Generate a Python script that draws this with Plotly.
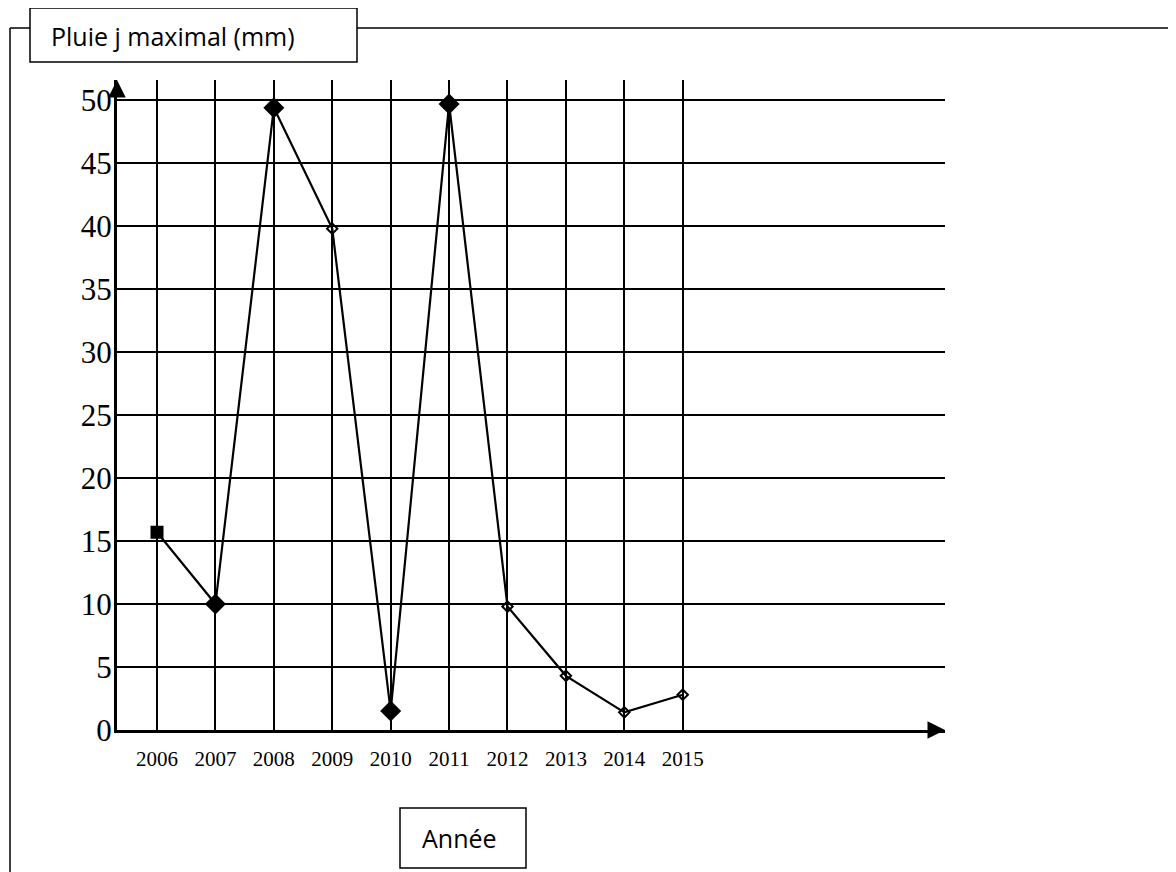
import plotly.graph_objects as go

# ---- data ----
years = [2006, 2007, 2008, 2009, 2010, 2011, 2012, 2013, 2014, 2015]
year_labels = ["2006", "2007", "2008", "2009", "2010", "2011", "2012", "2013", "2014", "2015"]
pluie_max = [15.7, 10.0, 49.4, 39.8, 1.5, 49.7, 9.8, 4.3, 1.4, 2.8]
y_ticks = [0, 5, 10, 15, 20, 25, 30, 35, 40, 45, 50]
y_title = "Pluie j maximal (mm)"
x_title = "Année"

# ---- styles ----
marker_symbols = ["square", "diamond", "diamond", "diamond-open", "diamond",
                  "diamond", "diamond-open", "diamond-open", "diamond-open", "diamond-open"]
marker_sizes = [11, 14, 14, 8, 14, 14, 8, 8, 8, 8]

OFF = 8  # browser body margin
W, H = 1176, 872
L, R, T, B = 117 - OFF, 945 - OFF, 80 - OFF, 730 - OFF  # plot area in pixels


def px(x):
    return (x - OFF - L) / (R - L)


def py(y):
    return (B - (y - OFF)) / (B - T)


fig = go.Figure()
fig.add_trace(go.Scatter(
    x=years, y=pluie_max, mode="lines+markers",
    line=dict(color="black", width=2.2),
    marker=dict(color="black", symbol=marker_symbols, size=marker_sizes,
                opacity=1, line=dict(color="black", width=2)),
    showlegend=False,
))

serif = "Liberation Serif, Times New Roman, serif"
label_font = "Open Sans, Lato, sans-serif"

fig.update_layout(
    width=W, height=H,
    margin=dict(l=L, r=W - R, t=T, b=H - B, pad=0),
    paper_bgcolor="white", plot_bgcolor="white",
    xaxis=dict(
        type="linear", range=[2005.315, 2019.49],
        tickvals=years, ticktext=year_labels,
        showgrid=True, gridcolor="black", gridwidth=1.8,
        showline=True, linecolor="black", linewidth=3,
        zeroline=False, ticks="", ticklabelstandoff=8,
        tickfont=dict(family=serif, size=21, color="black"),
    ),
    yaxis=dict(
        range=[0, 51.6], tickvals=y_ticks,
        showgrid=True, gridcolor="black", gridwidth=1.8,
        showline=True, linecolor="black", linewidth=3,
        zeroline=False, ticks="", ticklabelstandoff=-4,
        tickfont=dict(family=serif, size=31, color="black"),
    ),
)

# outer frame
fig.add_shape(type="line", xref="paper", yref="paper",
              x0=px(10), y0=py(900), x1=px(10), y1=py(28),
              line=dict(color="black", width=1.5))
fig.add_shape(type="line", xref="paper", yref="paper",
              x0=px(10), y0=py(28), x1=px(30), y1=py(28),
              line=dict(color="black", width=1.5))
fig.add_shape(type="line", xref="paper", yref="paper",
              x0=px(357), y0=py(28), x1=px(1200), y1=py(28),
              line=dict(color="black", width=1.5))
# title box
fig.add_shape(type="rect", xref="paper", yref="paper",
              x0=px(30), y0=py(8), x1=px(357), y1=py(62),
              line=dict(color="black", width=1.5), fillcolor="white")
fig.add_annotation(xref="paper", yref="paper", x=px(49), y=py(36),
                   xanchor="left", yanchor="middle", showarrow=False,
                   text=y_title, font=dict(family=label_font, size=25, color="black"))
# x title box
fig.add_shape(type="rect", xref="paper", yref="paper",
              x0=px(400), y0=py(808), x1=px(526), y1=py(868),
              line=dict(color="black", width=1.5), fillcolor="white")
fig.add_annotation(xref="paper", yref="paper", x=px(459), y=py(838),
                   xanchor="center", yanchor="middle", showarrow=False,
                   text=x_title, font=dict(family=label_font, size=25, color="black"))

# axis arrows
fig.add_annotation(xref="paper", yref="paper", x=1, y=0, ax=-16, ay=0,
                   showarrow=True, arrowhead=2, arrowsize=1.4, arrowwidth=2.5,
                   arrowcolor="black", text="")
fig.add_annotation(xref="paper", yref="paper", x=0, y=1, ax=0, ay=16,
                   showarrow=True, arrowhead=2, arrowsize=1.4, arrowwidth=2.5,
                   arrowcolor="black", text="")

fig.write_html("out.html")
